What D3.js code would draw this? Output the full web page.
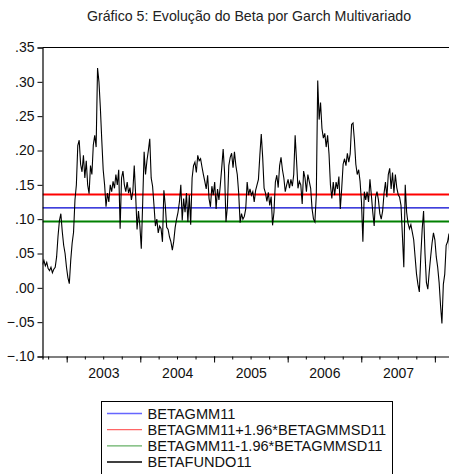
<!DOCTYPE html>
<html>
<head>
<meta charset="utf-8">
<script src="https://cdn.jsdelivr.net/npm/d3@7"></script>
<style>
  html, body { margin: 0; padding: 0; background: #fff; }
  svg { display: block; font-family: "Liberation Sans", Arial, Helvetica, sans-serif; }
</style>
</head>
<body>
<svg id="chart" width="449" height="474"></svg>
<script>
// Weekly beta of the fund (BETAFUNDO11), first observation in early September 2002
const firstWeek = "2002-09-03";
const betaFundo = [
  // 2002 Q3 – 2003
  .034, .040, .032, .037, .028, .025, .030, .022, .027, .030,
  .045, .075, .098, .108, .082, .062, .050, .030, .015, .006,
  .040, .065, .081, .128, .150, .207, .215, .180, .169, .193,
  .160, .185, .150, .137, .178, .165, .208, .222, .205, .320,
  .300, .262, .215, .172, .150, .118, .138, .125, .150, .140,
  .155, .145, .165, .150, .172, .086, .160, .170, .150, .140,
  // 2003 Q4 – 2004
  .154, .138, .146, .128, .140, .178, .135, .085, .112, .090,
  .057, .125, .198, .165, .185, .200, .217, .160, .148, .120,
  .090, .100, .080, .090, .086, .067, .142, .120, .088, .085,
  .074, .067, .055, .068, .088, .100, .110, .125, .150, .098,
  .130, .110, .138, .096, .135, .092, .160, .178, .183, .168,
  .193, .185, .188, .176, .165, .155, .144, .164,
  // 2005
  .130, .118, .148, .135, .154, .115, .144, .128, .150, .175,
  .202, .168, .096, .118, .178, .190, .196, .175, .198, .178,
  .165, .138, .095, .108, .100, .104, .115, .154, .135, .144,
  .135, .140, .125, .142, .150, .158, .193, .224, .190, .145,
  .138, .126, .139, .120, .133, .091, .110, .154, .164, .146,
  .178, .190, .172, .160, .140, .150, .158, .145,
  // 2006
  .158, .148, .165, .222, .185, .145, .155, .150, .122, .170,
  .160, .140, .165, .155, .145, .115, .100, .096, .135, .302,
  .245, .270, .232, .218, .225, .205, .222, .195, .150, .130,
  .154, .135, .154, .144, .162, .115, .145, .180, .188, .178,
  .196, .183, .195, .238, .240, .215, .180, .165, .172, .155,
  .125, .067, .140, .128, .140, .125, .158,
  // 2007 – early 2008
  .135, .110, .090, .132, .140, .128, .108, .100, .112, .138,
  .154, .132, .165, .174, .144, .168, .138, .165, .146, .136,
  .132, .120, .076, .030, .150, .110, .094, .086, .092, .081,
  .070, .045, .020, .005, -.006, .045, .085, .112, .050, .008,
  -.002, .023, .045, .065, .080, .070, .045, .030, .008, -.025,
  -.052, .005, .020, .062, .067, .079, .014
];

// Constant GMM beta and its standard deviation
const betaGmm = 0.1163;
const betaGmmSd = 0.01005;

const seriesNames = [
  "BETAGMM11",
  "BETAGMM11+1.96*BETAGMMSD11",
  "BETAGMM11-1.96*BETAGMMSD11",
  "BETAFUNDO11"
];
const yTicks = [-0.10, -0.05, 0.00, 0.05, 0.10, 0.15, 0.20, 0.25, 0.30, 0.35];
const yearLabels = ["2003", "2004", "2005", "2006", "2007"];
const title = "Gráfico 5: Evolução do Beta por Garch Multivariado";

// ---- layout ----
const plot = { left: 42.5, top: 47.5, right: 451, bottom: 356.5 };
const svg = d3.select("#chart");

const parse = d3.timeParse("%Y-%m-%d");
const start = parse(firstWeek);
const dates = betaFundo.map((_, i) => d3.timeDay.offset(start, 7 * i));

const x = d3.scaleTime()
  .domain([start, parse("2008-03-21")])
  .range([plot.left, plot.right]);
const y = d3.scaleLinear()
  .domain([-0.10, 0.35])
  .range([plot.bottom, plot.top]);

// title
svg.append("text")
  .attr("x", 249).attr("y", 21)
  .attr("text-anchor", "middle")
  .attr("font-size", 14.2)
  .attr("fill", "#222")
  .text(title);

// clip for the series
svg.append("clipPath").attr("id", "clip")
  .append("rect")
  .attr("x", plot.left).attr("y", plot.top)
  .attr("width", plot.right - plot.left).attr("height", plot.bottom - plot.top);

const g = svg.append("g").attr("clip-path", "url(#clip)");

// horizontal reference series
const refLines = [
  { v: betaGmm, color: "#0000d0", w: 1.3 },
  { v: betaGmm + 1.96 * betaGmmSd, color: "#ff0000", w: 2 },
  { v: betaGmm - 1.96 * betaGmmSd, color: "#008000", w: 2 }
];
g.selectAll("line.ref").data(refLines).enter().append("line")
  .attr("class", "ref")
  .attr("x1", plot.left).attr("x2", plot.right)
  .attr("y1", d => y(d.v)).attr("y2", d => y(d.v))
  .attr("stroke", d => d.color).attr("stroke-width", d => d.w);

// fund beta
const line = d3.line()
  .x((d, i) => x(dates[i]))
  .y(d => y(d));
g.append("path")
  .datum(betaFundo)
  .attr("d", line)
  .attr("fill", "none")
  .attr("stroke", "#000")
  .attr("stroke-width", 1.1)
  .attr("stroke-linejoin", "miter");

// frame: top border
svg.append("line")
  .attr("x1", plot.left).attr("x2", plot.right)
  .attr("y1", plot.top).attr("y2", plot.top)
  .attr("stroke", "#000").attr("stroke-width", 1.2);

// y axis
const yAxis = d3.axisLeft(y)
  .tickValues(yTicks)
  .tickSize(5)
  .tickPadding(3)
  .tickFormat(d => d3.format(".2f")(d).replace("0.", "."));
const ya = svg.append("g")
  .attr("transform", `translate(${plot.left},0)`)
  .call(yAxis);
ya.select(".domain").attr("stroke-width", 1.2);
ya.selectAll("text").attr("font-size", 14).attr("fill", "#111")
  .attr("font-family", "Liberation Sans, Arial, sans-serif");

// x axis: quarter ticks, year ticks, year labels
const quarterTicks = d3.timeMonth.every(3).range(parse("2002-10-01"), parse("2008-03-01"));
const yearTicks = d3.timeYear.range(parse("2003-01-01"), parse("2008-06-01"));

const xaMinor = svg.append("g")
  .attr("transform", `translate(0,${plot.bottom})`)
  .call(d3.axisBottom(x).tickValues(quarterTicks).tickSize(3).tickFormat(""));
xaMinor.select(".domain").attr("stroke-width", 1.2);

svg.append("g")
  .attr("transform", `translate(0,${plot.bottom})`)
  .call(d3.axisBottom(x).tickValues(yearTicks).tickSize(6).tickFormat(""))
  .select(".domain").remove();

const midYears = yearLabels.map(s => parse(s + "-07-02"));
const xl = svg.append("g")
  .attr("transform", `translate(0,${plot.bottom})`)
  .call(d3.axisBottom(x).tickValues(midYears).tickSize(0).tickPadding(11.3)
    .tickFormat((d, i) => yearLabels[i]));
xl.select(".domain").remove();
xl.selectAll("text").attr("font-size", 14).attr("fill", "#111")
  .attr("font-family", "Liberation Sans, Arial, sans-serif");

// legend
const legend = { left: 101.5, top: 401.5, right: 392.5 };
svg.append("rect")
  .attr("x", legend.left).attr("y", legend.top)
  .attr("width", legend.right - legend.left).attr("height", 90)
  .attr("fill", "none").attr("stroke", "#000").attr("stroke-width", 1);

const legendColors = ["#6666ff", "#ff6666", "#66b066", "#000"];
const rowY = d3.scalePoint().domain(seriesNames).range([413.5, 462]);
const rows = svg.selectAll("g.leg").data(seriesNames).enter().append("g")
  .attr("class", "leg")
  .attr("transform", d => `translate(0,${rowY(d)})`);
rows.append("line")
  .attr("x1", 107).attr("x2", 142)
  .attr("stroke", (d, i) => legendColors[i]).attr("stroke-width", 1.3);
rows.append("text")
  .attr("x", 147.5).attr("y", 5)
  .attr("font-size", 14.6).attr("fill", "#111")
  .text(d => d);
</script>
</body>
</html>
